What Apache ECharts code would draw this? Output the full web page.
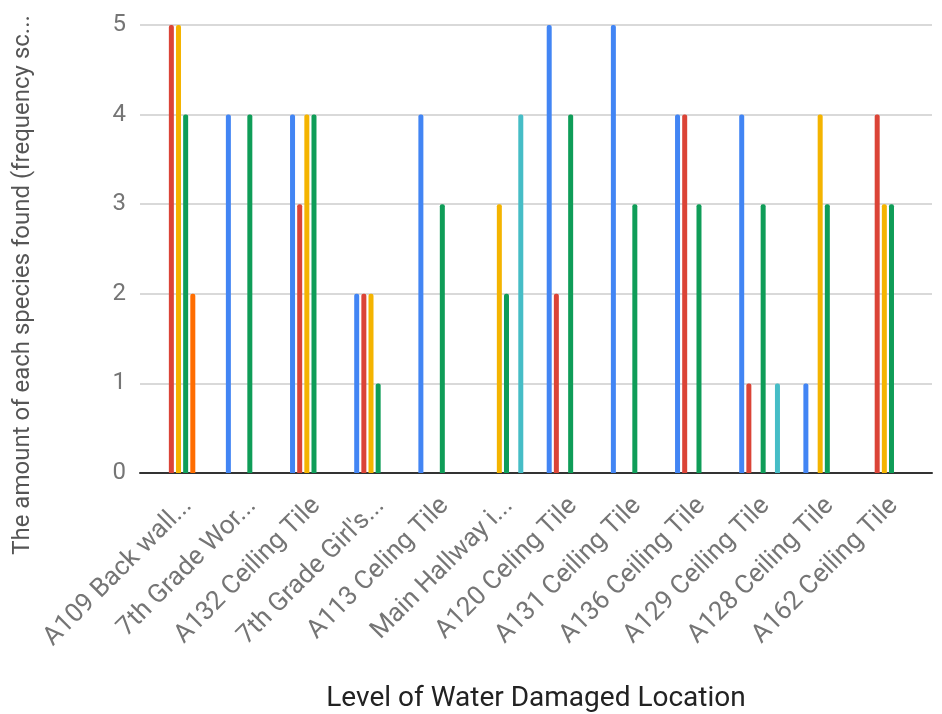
<!DOCTYPE html>
<html>
<head>
<meta charset="utf-8">
<script src="https://cdn.jsdelivr.net/npm/echarts@6/dist/echarts.min.js"></script>
<style>html,body{margin:0;padding:0;background:#fff;}#c{width:942px;height:714px;}</style>
</head>
<body>
<div id="c"></div>
<script>
var categories = ["A109 Back wall...", "7th Grade Wor...", "A132 Ceiling Tile", "7th Grade Girl's...", "A113 Celing Tile", "Main Hallway i...", "A120 Celing Tile", "A131 Ceiling Tile", "A136 Ceiling Tile", "A129 Ceiling Tile", "A128 Ceiling Tile", "A162 Ceiling Tile"];
var seriesNames = ["Species 1", "Species 2", "Species 3", "Species 4", "Species 5", "Species 6"];
var seriesColors = ["#4285F4", "#DB4437", "#F4B400", "#0F9D58", "#FF6D00", "#46BDC6"];
var s1 = [null, 4, 4, 2, 4, null, 5, 5, 4, 4, 1, null];
var s2 = [5, null, 3, 2, null, null, 2, null, 4, 1, null, 4];
var s3 = [5, null, 4, 2, null, 3, null, null, null, null, 4, 3];
var s4 = [4, 4, 4, 1, 3, 2, 4, 3, 3, 3, 3, 3];
var s5 = [2, null, null, null, null, null, null, null, null, null, null, null];
var s6 = [null, null, null, null, null, 4, null, null, null, 1, null, null];
var yTicks = [0, 1, 2, 3, 4, 5];
var yTitle = "The amount of each species found (frequency sc...";
var xTitle = "Level of Water Damaged Location";

var values = [s1, s2, s3, s4, s5, s6];
var font = "Roboto";
var chart = echarts.init(document.getElementById('c'), null, {renderer: 'canvas'});
var series = values.map(function (v, i) {
  return {
    name: seriesNames[i], type: 'bar', xAxisIndex: 1, yAxisIndex: 1,
    data: v, barWidth: 5, barGap: '43%',
    itemStyle: {color: seriesColors[i], borderRadius: [2, 2, 0, 0]}
  };
});
chart.setOption({
  animation: false,
  grid: [
    {left: 140, right: 10, top: 25, bottom: 241, outerBoundsMode: 'none', containLabel: false},
    {left: 150, right: 22, top: 25, bottom: 241, outerBoundsMode: 'none', containLabel: false},
    {left: 156, right: 16, top: 25, bottom: 241, outerBoundsMode: 'none', containLabel: false}
  ],
  xAxis: [
    {gridIndex: 0, type: 'value', min: 0, max: 1, axisLine: {show: true, onZero: false, lineStyle: {color: '#333', width: 2}},
     axisTick: {show: false}, axisLabel: {show: false}, splitLine: {show: false},
     name: xTitle, nameLocation: 'middle', nameGap: 212,
     nameTextStyle: {fontFamily: font, fontSize: 28, color: '#222'}},
    {gridIndex: 1, type: 'category', data: categories, axisLine: {show: false}, axisTick: {show: false},
     axisLabel: {show: false}},
    {gridIndex: 2, type: 'category', data: categories, axisLine: {show: false}, axisTick: {show: false},
     axisLabel: {rotate: 45, interval: 0, margin: 29, fontFamily: font, fontSize: 26, color: '#757575'}}
  ],
  yAxis: [
    {gridIndex: 0, type: 'value', min: yTicks[0], max: yTicks[yTicks.length - 1], interval: 1,
     axisLine: {show: false}, axisTick: {show: false},
     axisLabel: {margin: 14, fontFamily: font, fontSize: 24, color: '#757575'},
     splitLine: {lineStyle: {color: '#cccccc', width: 1.5}}},
    {gridIndex: 1, type: 'value', min: yTicks[0], max: yTicks[yTicks.length - 1], interval: 1,
     show: false, splitLine: {show: false}},
    {gridIndex: 2, type: 'value', min: yTicks[0], max: yTicks[yTicks.length - 1], interval: 1,
     show: false, splitLine: {show: false}}
  ],
  graphic: [{
    type: 'text', x: 23, y: 285, rotation: Math.PI / 2,
    style: {text: yTitle, fontFamily: font, fontSize: 24, fill: '#555', align: 'center', verticalAlign: 'middle'}
  }],
  series: series
});
</script>
</body>
</html>
